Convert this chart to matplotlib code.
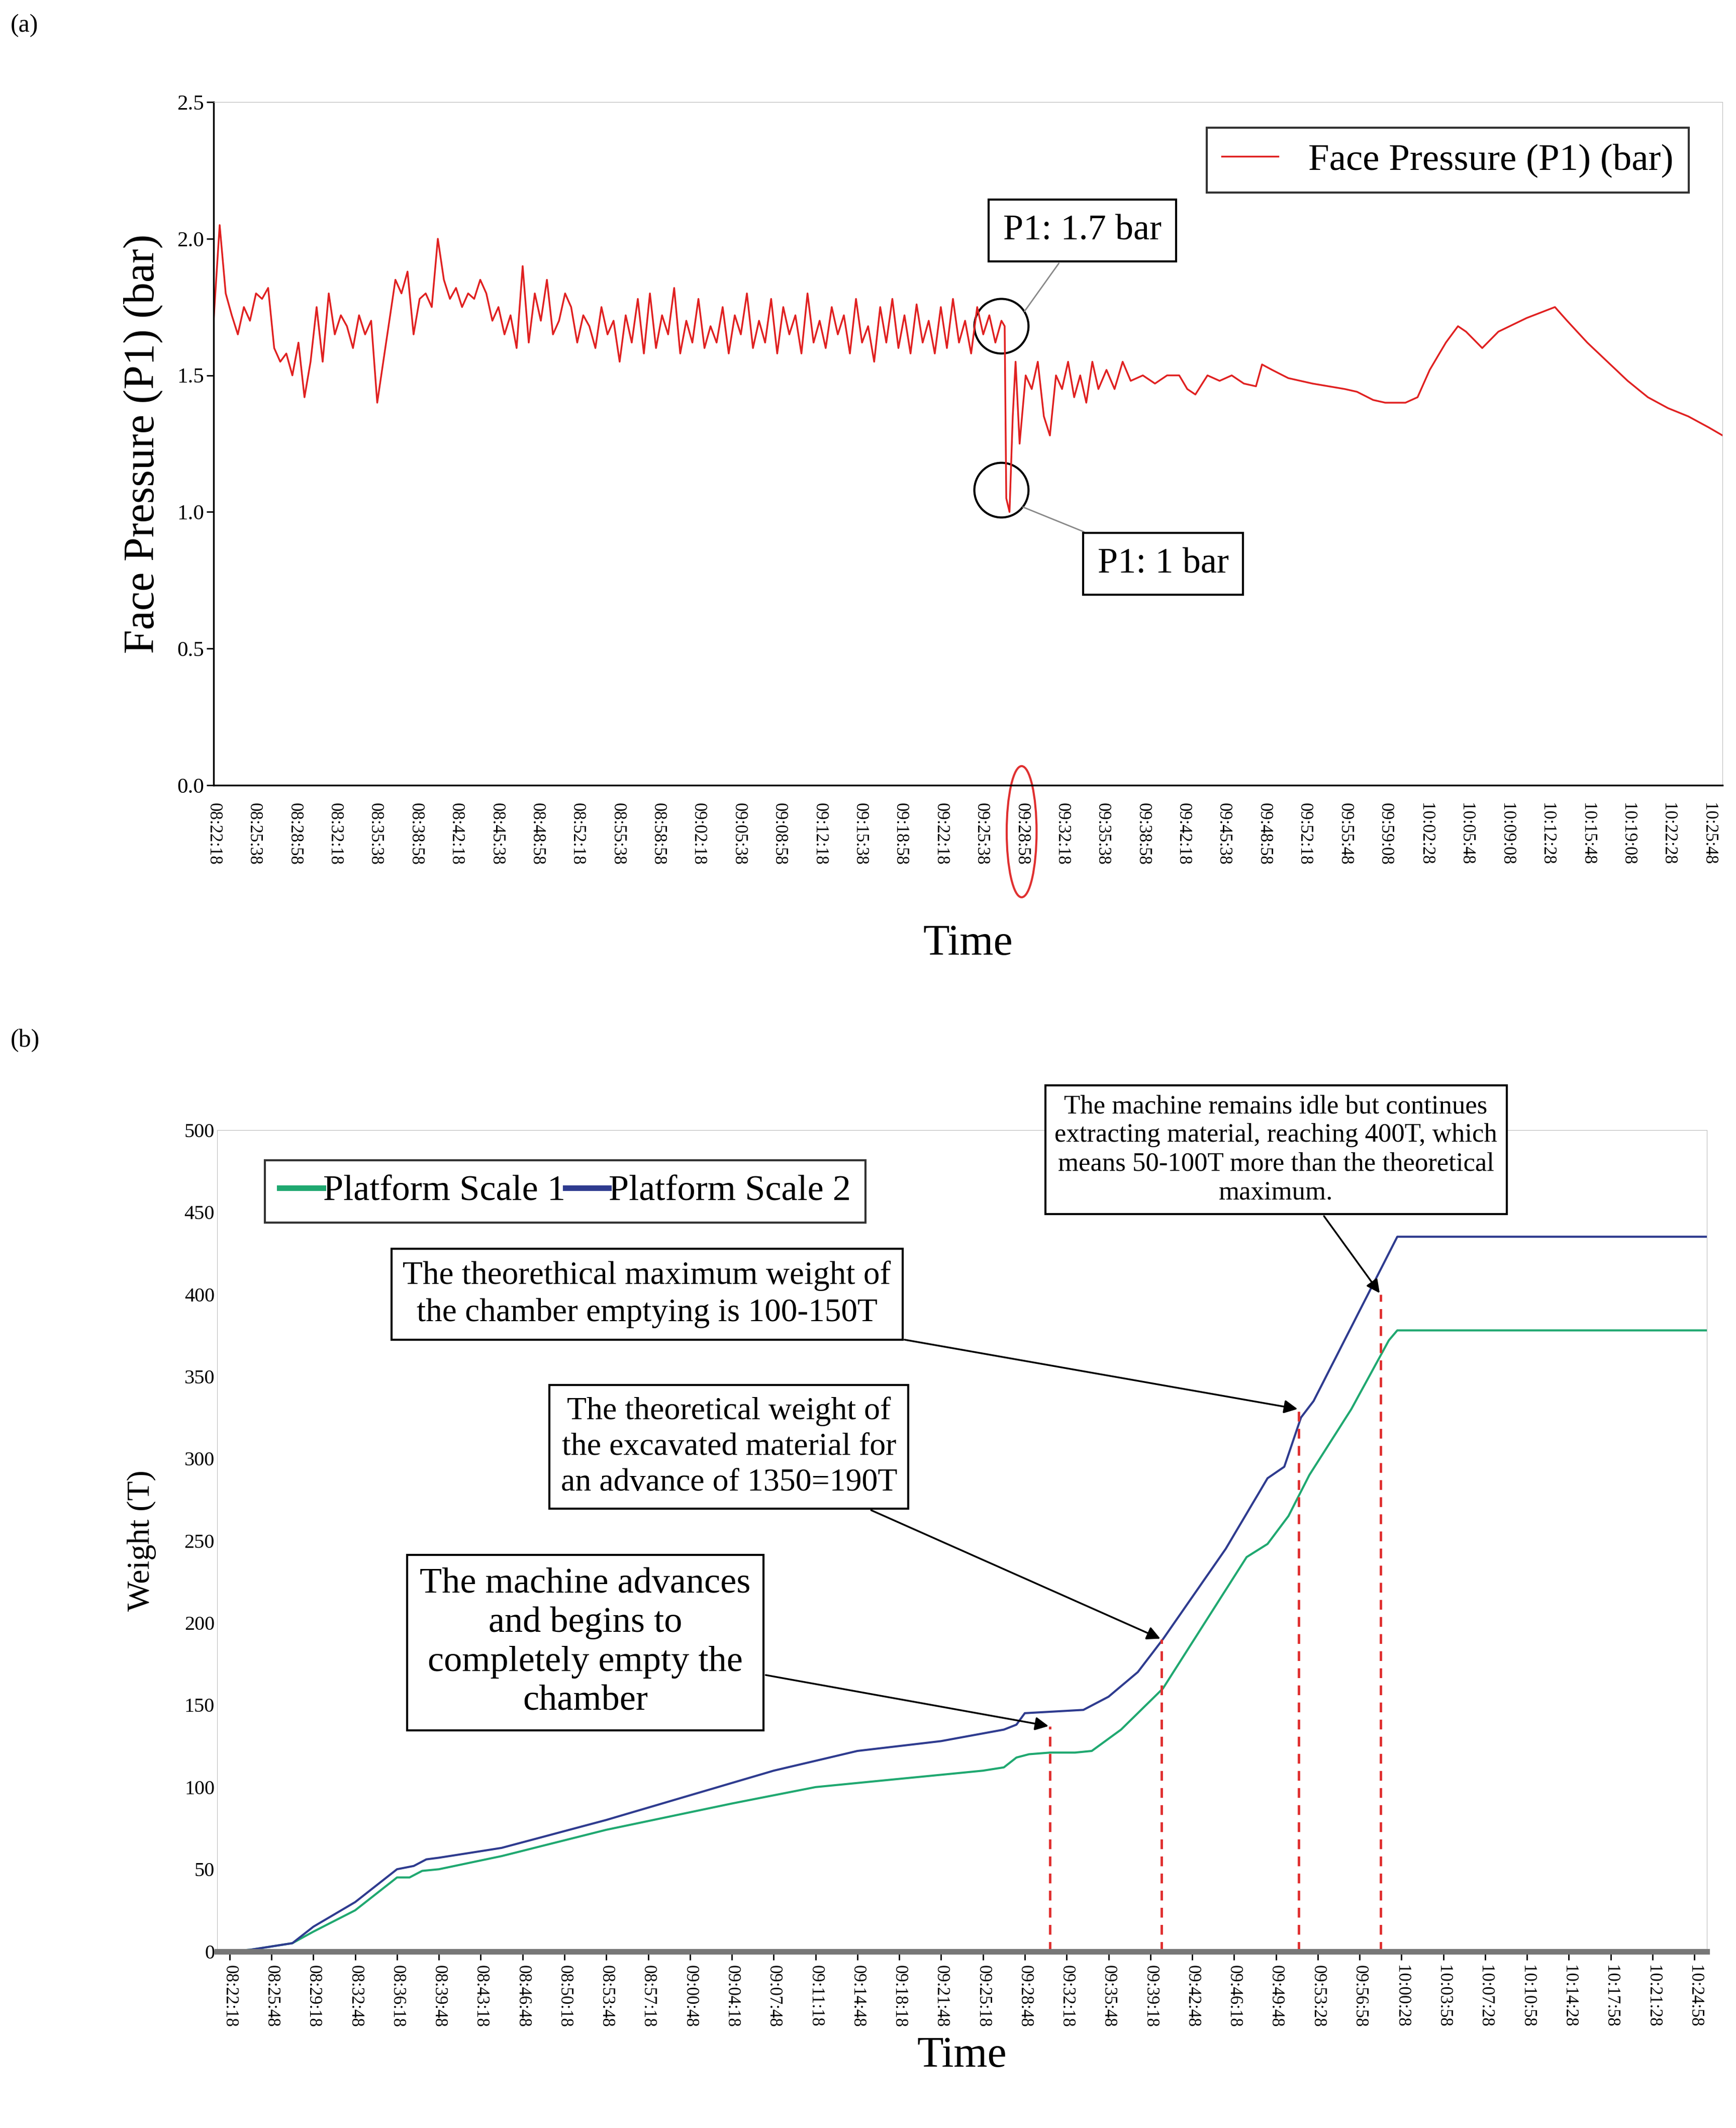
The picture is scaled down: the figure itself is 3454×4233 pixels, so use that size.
import numpy as np
import matplotlib
matplotlib.use("Agg")
import matplotlib.pyplot as plt
from matplotlib.patches import Ellipse

FONT = "Liberation Serif"
plt.rcParams["font.family"] = FONT

# ---------------- data (a) ----------------
labels_a = ["08:22:18","08:25:38","08:28:58","08:32:18","08:35:38","08:38:58","08:42:18","08:45:38",
            "08:48:58","08:52:18","08:55:38","08:58:58","09:02:18","09:05:38","09:08:58","09:12:18",
            "09:15:38","09:18:58","09:22:18","09:25:38","09:28:58","09:32:18","09:35:38","09:38:58",
            "09:42:18","09:45:38","09:48:58","09:52:18","09:55:48","09:59:08","10:02:28","10:05:48",
            "10:09:08","10:12:28","10:15:48","10:19:08","10:22:28","10:25:48"]
p1_noisy = [1.70,2.05,1.80,1.72,1.65,1.75,1.70,
            1.80,1.78,1.82,1.60,1.55,1.58,1.50,
            1.62,1.42,1.55,1.75,1.55,1.80,
            1.65,1.72,1.68,1.60,1.72,1.65,1.70,
            1.40,1.55,1.70,1.85,1.80,1.88,1.65,
            1.78,1.80,1.75,2.00,1.85,1.78,1.82,
            1.75,1.80,1.78,1.85,1.80,1.70,1.75,
            1.65,1.72,1.60,1.90,1.62,1.80,1.70,
            1.85,1.65,1.70,1.80,1.75,1.62,1.72,
            1.68,1.60,1.75,1.65,1.70,1.55,1.72,
            1.62,1.78,1.58,1.80,1.60,1.72,1.65,
            1.82,1.58,1.70,1.62,1.78,1.60,1.68,
            1.62,1.75,1.58,1.72,1.65,1.80,1.60,
            1.70,1.62,1.78,1.58,1.75,1.65,1.72,
            1.58,1.80,1.62,1.70,1.60,1.75,1.65,
            1.72,1.58,1.78,1.62,1.68,1.55,1.75,
            1.62,1.78,1.60,1.72,1.58,1.76,1.62,
            1.70,1.58,1.75,1.60,1.78,1.62,1.70,
            1.58,1.75,1.65,1.72,1.62]
tail_t = [19.5,19.58,19.62,19.7,19.78,19.85,19.95,20.1,20.25,20.4,20.55,20.7,20.85,21.0,21.15,21.3,
          21.45,21.6,21.75,21.9,22.1,22.3,22.5,22.7,23.0,23.3,23.6,23.9,24.1,24.3,24.6,24.9,25.2,
          25.5,25.8,25.95,26.2,26.6,27.2,28.0,28.3,28.7,29.0,29.5,29.8,30.1,30.5,30.8,31.0,31.4,
          31.8,32.5,33.2,33.5,34.0,34.5,35.0,35.5,36.0,36.5,37.0,37.35]
tail_p1 = [1.70,1.68,1.05,1.00,1.35,1.55,1.25,1.50,1.45,1.55,1.35,1.28,1.50,1.45,1.55,1.42,
           1.50,1.40,1.55,1.45,1.52,1.45,1.55,1.48,1.50,1.47,1.50,1.50,1.45,1.43,1.50,1.48,1.50,
           1.47,1.46,1.54,1.52,1.49,1.47,1.45,1.44,1.41,1.40,1.40,1.42,1.52,1.62,1.68,1.66,1.60,
           1.66,1.71,1.75,1.70,1.62,1.55,1.48,1.42,1.38,1.35,1.31,1.28]

# ---------------- data (b) ----------------
labels_b = ["08:22:18","08:25:48","08:29:18","08:32:48","08:36:18","08:39:48","08:43:18","08:46:48",
            "08:50:18","08:53:48","08:57:18","09:00:48","09:04:18","09:07:48","09:11:18","09:14:48",
            "09:18:18","09:21:48","09:25:18","09:28:48","09:32:18","09:35:48","09:39:18","09:42:48",
            "09:46:18","09:49:48","09:53:28","09:56:58","10:00:28","10:03:58","10:07:28","10:10:58",
            "10:14:28","10:17:58","10:21:28","10:24:58"]
s1_t = [0,0.5,1,1.5,2,3,4,4.3,4.6,5,6.5,9,12,14,16,18,18.5,18.8,19.1,19.6,20.2,20.6,21.3,22.3,23.3,24.3,24.8,
        25.3,25.8,26.8,27.7,27.9,35.3]
s1_w = [0,1,3,5,12,25,45,45,49,50,58,74,90,100,105,110,112,118,120,121,121,122,135,160,200,240,
        248,265,290,330,372,378,378]
s2_t = [0,0.5,1,1.5,2,3,4,4.4,4.7,5,6.5,9,11,13,15,17,18.5,18.8,19.0,19.7,20.4,21.0,21.7,22.3,
        23.8,24.8,25.2,25.6,25.9,27.3,27.9,35.3]
s2_w = [0,1,3,5,15,30,50,52,56,57,63,80,95,110,122,128,135,138,145,146,147,155,170,190,
        245,288,295,325,335,405,435,435]
vlines_x = [19.6,22.27,25.55,27.5]
vlines_y = [137,190,330,400]

fig = plt.figure(figsize=(34.55, 42.33), dpi=100)

# ---------------- panel (a) ----------------
ax = fig.add_axes([0.123, 0.631, 0.869, 0.321])
t_noisy = np.arange(len(p1_noisy)) * 0.15
t_all = np.concatenate([t_noisy, tail_t])
p_all = np.concatenate([p1_noisy, tail_p1])
ax.plot(t_all, p_all, color="#e02020", lw=2.5, label="Face Pressure (P1) (bar)")
ax.set_xlim(0, 37.35)
ax.set_ylim(0, 2.5)
ax.set_yticks([0, 0.5, 1.0, 1.5, 2.0, 2.5])
ax.set_yticklabels(["0.0","0.5","1.0","1.5","2.0","2.5"], fontsize=31)
ax.set_xticks(np.arange(len(labels_a)))
ax.set_xticklabels(labels_a, rotation=270, fontsize=25)
ax.tick_params(axis="x", length=0, pad=25)
ax.tick_params(axis="y", length=10, width=2)
for s in ["top", "right"]:
    ax.spines[s].set_color("#bbbbbb")
for s in ["left", "bottom"]:
    ax.spines[s].set_linewidth(2.5)
ax.set_ylabel("Face Pressure (P1) (bar)", fontsize=62, labelpad=20)
ax.set_xlabel("Time", fontsize=62, labelpad=85)
leg = ax.legend(loc="upper right", fontsize=54, frameon=True, fancybox=False, handlelength=1.5,
                bbox_to_anchor=(0.99, 0.99))
leg.get_frame().set_edgecolor("black"); leg.get_frame().set_linewidth(3)
ax.add_patch(Ellipse((19.5, 1.68), 1.34, 0.2, fill=False, lw=3, ec="black"))
ax.add_patch(Ellipse((19.5, 1.08), 1.34, 0.2, fill=False, lw=3, ec="black"))
ax.add_patch(Ellipse((20.0, -0.17), 0.74, 0.48, fill=False, lw=3, ec="#e03030", clip_on=False))
bbox = dict(boxstyle="square,pad=0.4", fc="white", ec="black", lw=3)
ax.annotate("P1: 1.7 bar", xy=(20.05, 1.73), xytext=(21.5, 2.03), fontsize=52, ha="center", va="center",
            bbox=bbox, arrowprops=dict(arrowstyle="-", color="#888888", lw=2))
ax.annotate("P1: 1 bar", xy=(20.0, 1.02), xytext=(23.5, 0.81), fontsize=52, ha="center", va="center",
            bbox=bbox, arrowprops=dict(arrowstyle="-", color="#888888", lw=2))
fig.text(0.006, 0.985, "(a)", fontsize=36)

# ---------------- panel (b) ----------------
bx = fig.add_axes([0.125, 0.083, 0.858, 0.386])
bx.plot(s1_t, s1_w, color="#1fa870", lw=3, label="Platform Scale 1")
bx.plot(s2_t, s2_w, color="#2e3b8f", lw=3, label="Platform Scale 2")
for xv, yv in zip(vlines_x, vlines_y):
    bx.plot([xv, xv], [0, yv], color="#e03030", lw=3.5, ls=(0, (4, 3)))
bx.set_xlim(-0.3, 35.3)
bx.set_ylim(0, 500)
bx.set_yticks(np.arange(0, 501, 50))
bx.set_yticklabels([str(v) for v in range(0, 501, 50)], fontsize=29)
bx.set_xticks(np.arange(len(labels_b)))
bx.set_xticklabels(labels_b, rotation=270, fontsize=25)
bx.tick_params(axis="x", length=12, width=2, pad=8)
bx.tick_params(axis="y", length=0)
for s in ["top", "right", "left"]:
    bx.spines[s].set_color("#bbbbbb")
bx.spines["bottom"].set_color("#777777"); bx.spines["bottom"].set_linewidth(8)
bx.set_ylabel("Weight (T)", fontsize=46, labelpad=40)
bx.set_xlabel("Time", fontsize=62, labelpad=12)
leg2 = bx.legend(loc="upper left", ncol=2, fontsize=52, frameon=True, fancybox=False,
                 handlelength=1.2, handletextpad=0.0, columnspacing=0.0, bbox_to_anchor=(0.02, 0.985))
leg2.get_frame().set_edgecolor("black"); leg2.get_frame().set_linewidth(3)
for l in leg2.get_lines():
    l.set_linewidth(8)
bb = dict(boxstyle="square,pad=0.35", fc="white", ec="black", lw=3)
ap = dict(arrowstyle="-|>", color="black", lw=2.5, mutation_scale=40)
bx.annotate("The machine remains idle but continues\nextracting material, reaching 400T, which\nmeans 50-100T more than the theoretical\nmaximum.",
            xy=(27.5, 400), xytext=(25.0, 488), fontsize=38, ha="center", va="center",
            bbox=bb, arrowprops=ap, linespacing=1.25, annotation_clip=False)
bx.annotate("The theorethical maximum weight of\nthe chamber emptying is 100-150T",
            xy=(25.55, 330), xytext=(9.97, 400), fontsize=47, ha="center", va="center",
            bbox=bb, arrowprops=ap, linespacing=1.3)
bx.annotate("The theoretical weight of\nthe excavated material for\nan advance of 1350=190T",
            xy=(22.27, 190), xytext=(11.93, 307), fontsize=46, ha="center", va="center",
            bbox=bb, arrowprops=ap, linespacing=1.3)
bx.annotate("The machine advances\nand begins to\ncompletely empty the\nchamber",
            xy=(19.6, 137), xytext=(8.5, 188), fontsize=52, ha="center", va="center",
            bbox=bb, arrowprops=ap, linespacing=1.25)
fig.text(0.006, 0.508, "(b)", fontsize=36)

fig.savefig("out.png", dpi=100, facecolor="white")
